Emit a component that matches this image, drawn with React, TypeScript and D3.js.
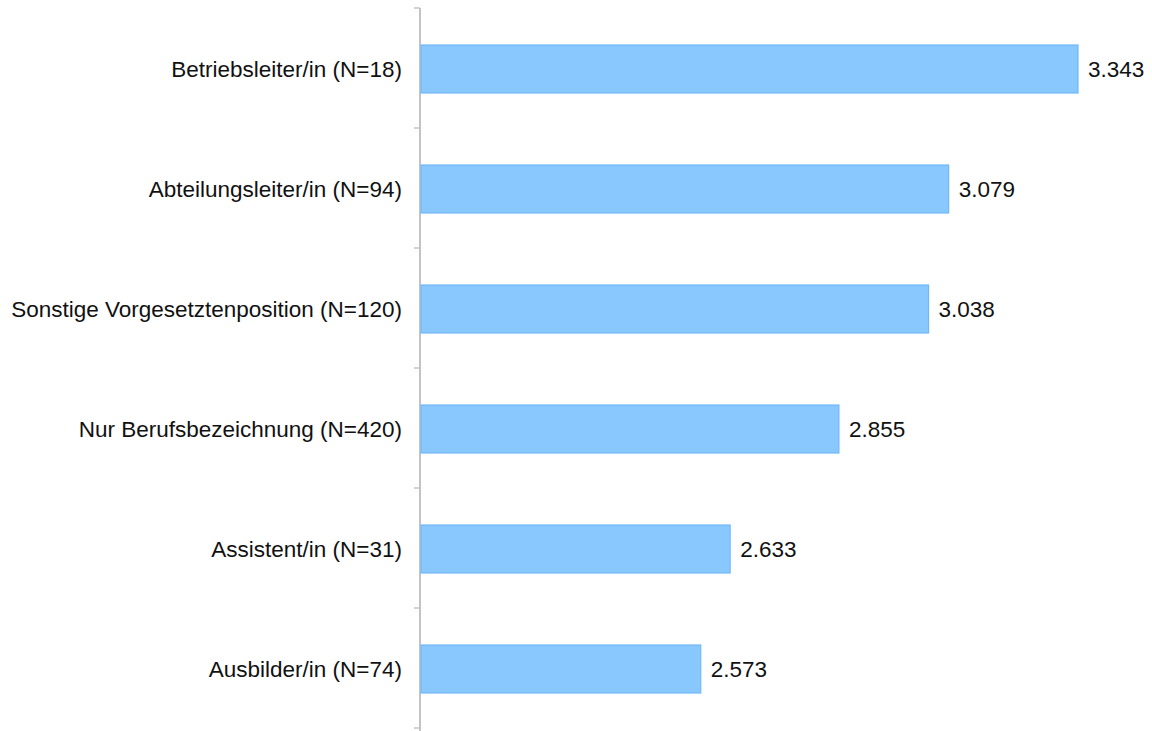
import React, { useEffect, useRef } from "react";
import * as d3 from "d3";

const categories = [
  "Betriebsleiter/in (N=18)",
  "Abteilungsleiter/in (N=94)",
  "Sonstige Vorgesetztenposition (N=120)",
  "Nur Berufsbezeichnung (N=420)",
  "Assistent/in (N=31)",
  "Ausbilder/in (N=74)",
];
const values = [3.343, 3.079, 3.038, 2.855, 2.633, 2.573];

const W = 1152;
const H = 731;

const App: React.FC = () => {
  const svgRef = useRef<SVGSVGElement | null>(null);

  useEffect(() => {
    const svg = d3.select(svgRef.current);
    svg.selectAll("*").remove();

    const margin = { top: 8, left: 420 };
    const font = "'Liberation Sans', Arial, sans-serif";

    const x = d3.scaleLinear().domain([2, 3.343]).range([margin.left, 1078]);
    const y = d3
      .scaleBand()
      .domain(categories)
      .range([margin.top, margin.top + 120 * categories.length])
      .paddingInner(0.6)
      .paddingOuter(0.3);

    const data = categories.map((c, i) => ({ name: c, value: values[i] }));

    // axis line + ticks between categories
    const axis = svg.append("g");
    axis
      .append("line")
      .attr("x1", margin.left)
      .attr("x2", margin.left)
      .attr("y1", margin.top)
      .attr("y2", H)
      .attr("stroke", "#c4c4c4")
      .attr("stroke-width", 2);
    const step = y.step();
    d3.range(categories.length + 1).forEach((i) => {
      axis
        .append("line")
        .attr("x1", margin.left - 6)
        .attr("x2", margin.left)
        .attr("y1", margin.top + i * step)
        .attr("y2", margin.top + i * step)
        .attr("stroke", "#c4c4c4")
        .attr("stroke-width", 1.5);
    });

    svg
      .selectAll(".bar")
      .data(data)
      .enter()
      .append("rect")
      .attr("class", "bar")
      .attr("x", x(2) + 1)
      .attr("y", (d) => (y(d.name) || 0) + 1)
      .attr("width", (d) => x(d.value) - x(2) - 1)
      .attr("height", y.bandwidth())
      .attr("fill", "#88c8fe")
      .attr("stroke", "#72b8f6")
      .attr("stroke-width", 1.2);

    svg
      .selectAll(".val")
      .data(data)
      .enter()
      .append("text")
      .attr("x", (d) => x(d.value) + 10)
      .attr("y", (d) => (y(d.name) || 0) + y.bandwidth() / 2 + 1)
      .attr("dy", "0.35em")
      .style("font-family", font)
      .style("font-size", "22.5px")
      .attr("fill", "#111")
      .text((d) => d3.format(".3f")(d.value));

    svg
      .selectAll(".cat")
      .data(data)
      .enter()
      .append("text")
      .attr("x", margin.left - 18)
      .attr("y", (d) => (y(d.name) || 0) + y.bandwidth() / 2 + 1)
      .attr("dy", "0.35em")
      .attr("text-anchor", "end")
      .style("font-family", font)
      .style("font-size", "22.5px")
      .attr("fill", "#111")
      .text((d) => d.name);
  }, []);

  return (
    <svg
      ref={svgRef}
      width={W}
      height={H}
      style={{ position: "absolute", left: 0, top: 0, background: "#fff" }}
    ></svg>
  );
};

export default App;
